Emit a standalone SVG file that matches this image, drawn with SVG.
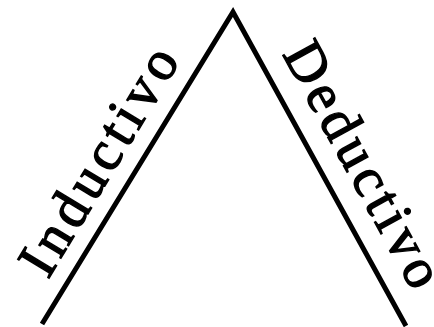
<svg xmlns="http://www.w3.org/2000/svg" width="434" height="327" viewBox="0 0 434 327">
  <style>
    .edge { fill: none; stroke: #000; stroke-width: 5; stroke-linejoin: miter; stroke-linecap: butt; }
    .lbl { font-family: "Liberation Serif", "DejaVu Serif", serif; font-size: 56px; fill: #000; stroke: #000; stroke-width: 1.4; }
  </style>
  <rect width="434" height="327" fill="#fff"/>
  <g id="connectors">
    <polyline class="edge" points="42,324 233,12 406,326"/>
  </g>
  <g id="inductivo">
    <text class="lbl" transform="translate(48,280) rotate(-58.85)" textLength="256" lengthAdjust="spacing">Inductivo</text>
  </g>
  <g id="deductivo">
    <text class="lbl" transform="translate(282,54) rotate(61.2)" textLength="272" lengthAdjust="spacing">Deductivo</text>
  </g>
</svg>
